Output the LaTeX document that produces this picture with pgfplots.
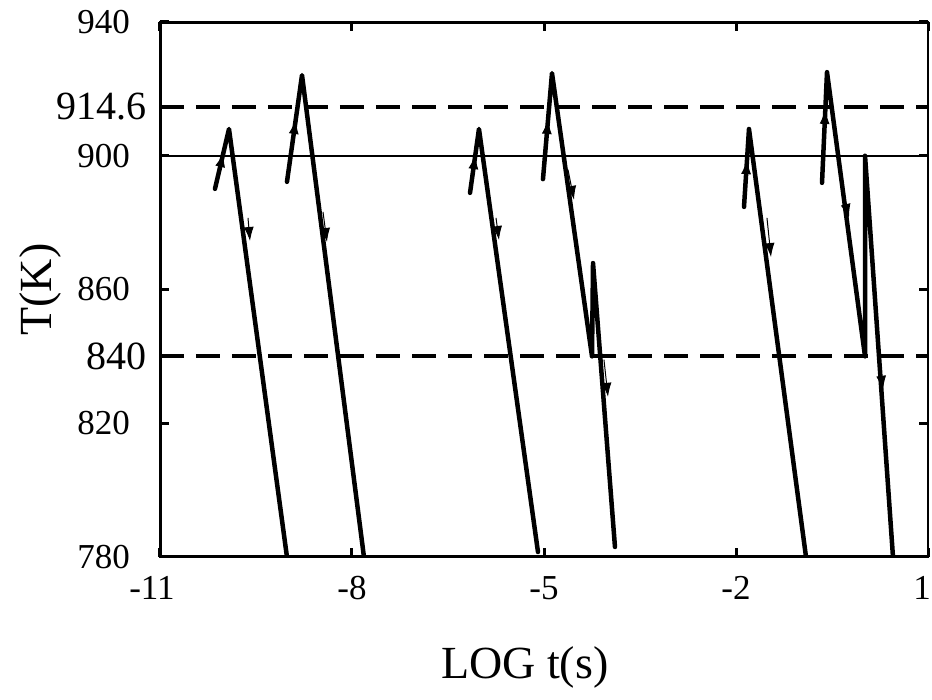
\documentclass[border=0pt]{standalone}
\usepackage{fontspec}
\setmainfont{Liberation Serif}
\usepackage{pgfplots}
\pgfplotsset{compat=1.18}
\usetikzlibrary{arrows.meta}

\pgfplotsset{
  curve/.style={black, line width=4.5pt, line join=round, line cap=round},
  flow/.style={black, line width=1pt, -{Latex[length=14pt,width=10pt]}},
}

\begin{document}
\begin{tikzpicture}
\begin{axis}[
  at={(0,0)}, anchor=south west,
  scale only axis, width=768pt, height=535pt,
  xmin=-11, xmax=1, ymin=780, ymax=940,
  axis line style={line width=2.5pt},
  tick align=inside, major tick length=9pt,
  every tick/.style={black, line width=3pt},
  xtick={-11,-8,-5,-2,1},
  xticklabels={{-11\hspace*{16pt}},-8,-5,-2,{1\hspace*{12pt}}},
  ytick={780,820,860,900,940}, yticklabels={780,820,860,900,940},
  extra y ticks={840,914.6}, extra y tick labels={840,914.6},
  tick label style={font=\fontsize{35}{35}\selectfont, inner sep=0pt},
  xticklabel style={anchor=north, yshift=-19pt},
  yticklabel style={anchor=east, xshift=-30pt},
  extra y tick style={yticklabel style={xshift=17pt, font=\fontsize{40}{40}\selectfont}},
  xlabel={LOG t(s)}, ylabel={T(K)},
  every axis x label/.style={at={(rel axis cs:0.475,0)}, yshift=-110pt, anchor=center,
    font=\fontsize{46}{46}\selectfont},
  every axis y label/.style={at={(rel axis cs:0,0.5)}, xshift=-120pt, rotate=90, anchor=center,
    font=\fontsize{46}{46}\selectfont},
]

% reference levels
\addplot[black, line width=2.2pt] coordinates {(-11,900) (1,900)};
\addplot[black, line width=4pt, dash pattern=on 24pt off 12pt] coordinates {(-11,914.6) (1,914.6)};
\addplot[black, line width=4pt, dash pattern=on 24pt off 12pt] coordinates {(-11,840) (1,840)};

% heating / cooling paths
\addplot[curve] coordinates {(-10.141,890.1) (-9.922,908.0) (-9.016,780)};
\addplot[curve] coordinates {(-9.016,892.2) (-8.781,924.1) (-7.813,780)};
\addplot[curve] coordinates {(-6.156,888.9) (-6.016,908.0) (-5.094,781.5)};
\addplot[curve] coordinates {(-5.016,893.0) (-4.875,924.7) (-4.25,840) (-4.234,867.9) (-3.891,783)};
\addplot[curve] coordinates {(-1.875,884.7) (-1.797,908.0) (-0.906,780)};
\addplot[curve] coordinates {(-0.656,891.9) (-0.578,925.0) (0.016,840) (0.016,900) (0.453,780)};

% arrows, up
\addplot[flow] coordinates {(-10.094,894.0) (-10.009,900.8)};
\addplot[flow] coordinates {(-8.941,902.3) (-8.880,910.7)};
\addplot[flow] coordinates {(-6.123,893.4) (-6.073,900.2)};
\addplot[flow] coordinates {(-4.975,902.3) (-4.937,910.7)};
\addplot[flow] coordinates {(-1.853,891.3) (-1.828,898.7)};
\addplot[flow] coordinates {(-0.627,904.7) (-0.605,913.7)};

% arrows, down
\addplot[flow] coordinates {(-9.625,881.4) (-9.594,874.5)};
\addplot[flow] coordinates {(-8.453,883.2) (-8.391,874.2)};
\addplot[flow] coordinates {(-5.750,881.4) (-5.703,874.8)};
\addplot[flow] coordinates {(-4.625,895.8) (-4.531,886.8)};
\addplot[flow] coordinates {(-4.063,839.0) (-4.000,827.9)};
\addplot[flow] coordinates {(-1.516,881.4) (-1.453,869.7)};
\addplot[flow] coordinates {(-0.344,889.8) (-0.234,881.4)};
\addplot[flow] coordinates {(0.234,839.0) (0.297,830.0)};

% heavier frame on left, top, bottom
\draw[line width=4.5pt, line cap=rect] (rel axis cs:1,1) -- (rel axis cs:0,1) -- (rel axis cs:0,0) -- (rel axis cs:1,0);
\end{axis}
\pgfresetboundingbox
\useasboundingbox (-160pt,-143pt) rectangle (772pt,557pt);
\end{tikzpicture}
\end{document}
